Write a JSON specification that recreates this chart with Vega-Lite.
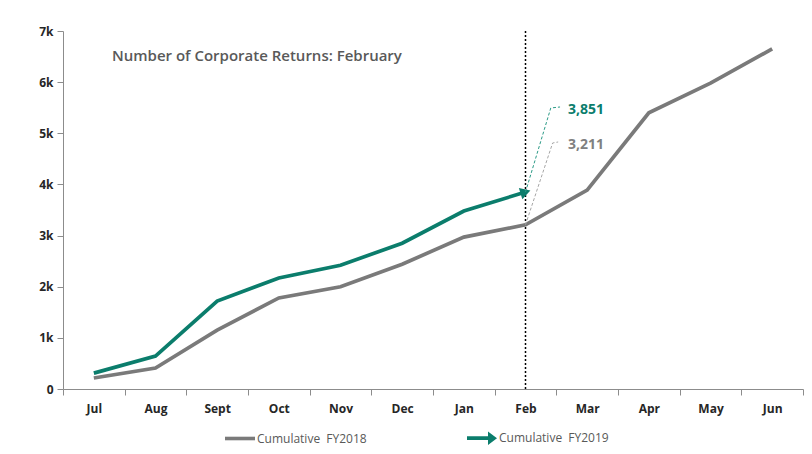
{
  "$schema": "https://vega.github.io/schema/vega-lite/v6.json",
  "width": 740,
  "height": 358,
  "autosize": {"type": "none"},
  "padding": {"left": 63, "top": 31, "right": 9, "bottom": 65},
  "background": "white",
  "config": {"view": {"stroke": null}, "font": "Open Sans"},
  "title": {"text": "Number of Corporate Returns: February", "anchor": "start", "frame": "group", "dx": 49, "dy": 43, "fontSize": 15, "fontWeight": 600, "color": "#595959", "font": "Open Sans"},
  "datasets": {
    "main": [
      {"month": "Jul", "series": "Cumulative\u00a0 FY2018", "value": 215},
      {"month": "Aug", "series": "Cumulative\u00a0 FY2018", "value": 410},
      {"month": "Sept", "series": "Cumulative\u00a0 FY2018", "value": 1150},
      {"month": "Oct", "series": "Cumulative\u00a0 FY2018", "value": 1780},
      {"month": "Nov", "series": "Cumulative\u00a0 FY2018", "value": 2000},
      {"month": "Dec", "series": "Cumulative\u00a0 FY2018", "value": 2440},
      {"month": "Jan", "series": "Cumulative\u00a0 FY2018", "value": 2970},
      {"month": "Feb", "series": "Cumulative\u00a0 FY2018", "value": 3211},
      {"month": "Mar", "series": "Cumulative\u00a0 FY2018", "value": 3890},
      {"month": "Apr", "series": "Cumulative\u00a0 FY2018", "value": 5400},
      {"month": "May", "series": "Cumulative\u00a0 FY2018", "value": 5980},
      {"month": "Jun", "series": "Cumulative\u00a0 FY2018", "value": 6650},
      {"month": "Jul", "series": "Cumulative\u00a0 FY2019", "value": 310},
      {"month": "Aug", "series": "Cumulative\u00a0 FY2019", "value": 645},
      {"month": "Sept", "series": "Cumulative\u00a0 FY2019", "value": 1720},
      {"month": "Oct", "series": "Cumulative\u00a0 FY2019", "value": 2170},
      {"month": "Nov", "series": "Cumulative\u00a0 FY2019", "value": 2420},
      {"month": "Dec", "series": "Cumulative\u00a0 FY2019", "value": 2850},
      {"month": "Jan", "series": "Cumulative\u00a0 FY2019", "value": 3480},
      {"month": "Feb", "series": "Cumulative\u00a0 FY2019", "value": 3851}
    ],
    "lead": [
      {"ann": "g", "ord": 1, "x": 8, "y": 3851},
      {"ann": "g", "ord": 2, "x": 8.41, "y": 5495},
      {"ann": "g", "ord": 3, "x": 8.56, "y": 5514},
      {"ann": "r", "ord": 1, "x": 8, "y": 3211},
      {"ann": "r", "ord": 2, "x": 8.44, "y": 4810},
      {"ann": "r", "ord": 3, "x": 8.53, "y": 4830}
    ],
    "labels": [
      {"ann": "g", "x": 8.69, "y": 5456, "t": "3,851"},
      {"ann": "r", "x": 8.69, "y": 4771, "t": "3,211"}
    ]
  },
  "layer": [
    {
      "data": {"name": "main"},
      "encoding": {
        "x": {
          "field": "month", "type": "ordinal",
          "scale": {"type": "band", "domain": ["Jul","Aug","Sept","Oct","Nov","Dec","Jan","Feb","Mar","Apr","May","Jun"], "paddingInner": 0, "paddingOuter": 0},
          "axis": {"title": null, "tickBand": "extent", "labelAngle": 0, "domainColor": "#8c8c8c", "tickColor": "#8c8c8c", "tickSize": 6, "labelPadding": 8, "labelFontSize": 12, "labelFontWeight": "bold", "labelColor": "#262626", "labelFont": "Open Sans"}
        },
        "y": {
          "field": "value", "type": "quantitative",
          "scale": {"domain": [0, 7000], "nice": false},
          "axis": {"title": null, "values": [0,1000,2000,3000,4000,5000,6000,7000], "format": "~s", "labelExpr": "datum.value == 0 ? '0' : datum.label", "grid": false, "domainColor": "#8c8c8c", "tickColor": "#8c8c8c", "tickSize": 6, "labelPadding": 4, "labelFontSize": 12, "labelFontWeight": "bold", "labelColor": "#262626", "labelFont": "Open Sans"}
        }
      },
      "layer": [
        {
          "mark": {"type": "rule", "color": "#000000", "strokeDash": [2, 2], "strokeWidth": 1.5},
          "transform": [{"filter": "datum.month == 'Feb' && datum.series == 'Cumulative\u00a0 FY2018'"}],
          "encoding": {"y": {"value": 0}, "y2": {"value": 358}}
        },
        {
          "mark": {"type": "line", "strokeWidth": 3.7},
          "encoding": {
            "color": {"field": "series", "type": "nominal", "scale": {"domain": ["Cumulative\u00a0 FY2018", "Cumulative\u00a0 FY2019"], "range": ["#7a7a7a", "#0b7d6c"]}, "legend": null}
          }
        },
        {
          "mark": {"type": "point", "filled": true, "opacity": 0},
          "encoding": {
            "fill": {"field": "series", "type": "nominal", "scale": {"domain": ["Cumulative\u00a0 FY2018", "Cumulative\u00a0 FY2019"], "range": ["#7a7a7a", "#0b7d6c"]},
              "legend": {"orient": "none", "legendX": 162, "legendY": 392, "direction": "horizontal", "title": null, "symbolOpacity": 1, "symbolSize": 900, "symbolStrokeWidth": 0, "labelFontSize": 12, "labelColor": "#595959", "labelFont": "Open Sans", "columnPadding": 100, "labelOffset": 2}},
            "shape": {"field": "series", "type": "nominal", "scale": {"domain": ["Cumulative\u00a0 FY2018", "Cumulative\u00a0 FY2019"], "range": ["M-1,-0.12L1,-0.12L1,0.12L-1,0.12Z", "M-1,-0.13L0.4,-0.13L0.4,-0.45L1,0L0.4,0.45L0.4,0.13L-1,0.13Z"]},
              "legend": {"orient": "none", "legendX": 162, "legendY": 392, "direction": "horizontal", "title": null, "symbolOpacity": 1, "symbolSize": 900, "symbolStrokeWidth": 0, "labelFontSize": 12, "labelColor": "#595959", "labelFont": "Open Sans", "columnPadding": 100, "labelOffset": 2}}
          }
        },
        {
          "mark": {"type": "point", "shape": "triangle-right", "filled": true, "size": 140, "angle": -17, "color": "#0b7d6c", "opacity": 1},
          "transform": [{"filter": "datum.month == 'Feb' && datum.series == 'Cumulative\u00a0 FY2019'"}],
          "encoding": {}
        }
      ]
    },
    {
      "layer": [
        {
          "data": {"name": "lead"},
          "transform": [{"filter": "datum.ann == 'g'"}],
          "mark": {"type": "line", "color": "#2a9a86", "strokeDash": [3, 2], "strokeWidth": 1},
          "encoding": {
            "x": {"field": "x", "type": "quantitative", "scale": {"domain": [0.5, 12.5], "nice": false, "zero": false}, "axis": null},
            "y": {"field": "y", "type": "quantitative"},
            "order": {"field": "ord"}
          }
        },
        {
          "data": {"name": "lead"},
          "transform": [{"filter": "datum.ann == 'r'"}],
          "mark": {"type": "line", "color": "#a6a6a6", "strokeDash": [3, 2], "strokeWidth": 1},
          "encoding": {
            "x": {"field": "x", "type": "quantitative", "scale": {"domain": [0.5, 12.5], "nice": false, "zero": false}, "axis": null},
            "y": {"field": "y", "type": "quantitative"},
            "order": {"field": "ord"}
          }
        },
        {
          "data": {"name": "labels"},
          "mark": {"type": "text", "align": "left", "baseline": "middle", "fontSize": 14, "fontWeight": "bold", "font": "Open Sans"},
          "encoding": {
            "x": {"field": "x", "type": "quantitative", "scale": {"domain": [0.5, 12.5], "nice": false, "zero": false}, "axis": null},
            "y": {"field": "y", "type": "quantitative"},
            "text": {"field": "t"},
            "color": {"field": "ann", "type": "nominal", "scale": {"domain": ["g", "r"], "range": ["#0b7d6c", "#808080"]}, "legend": null}
          }
        }
      ]
    }
  ],
  "resolve": {"scale": {"x": "independent", "color": "independent"}}
}
